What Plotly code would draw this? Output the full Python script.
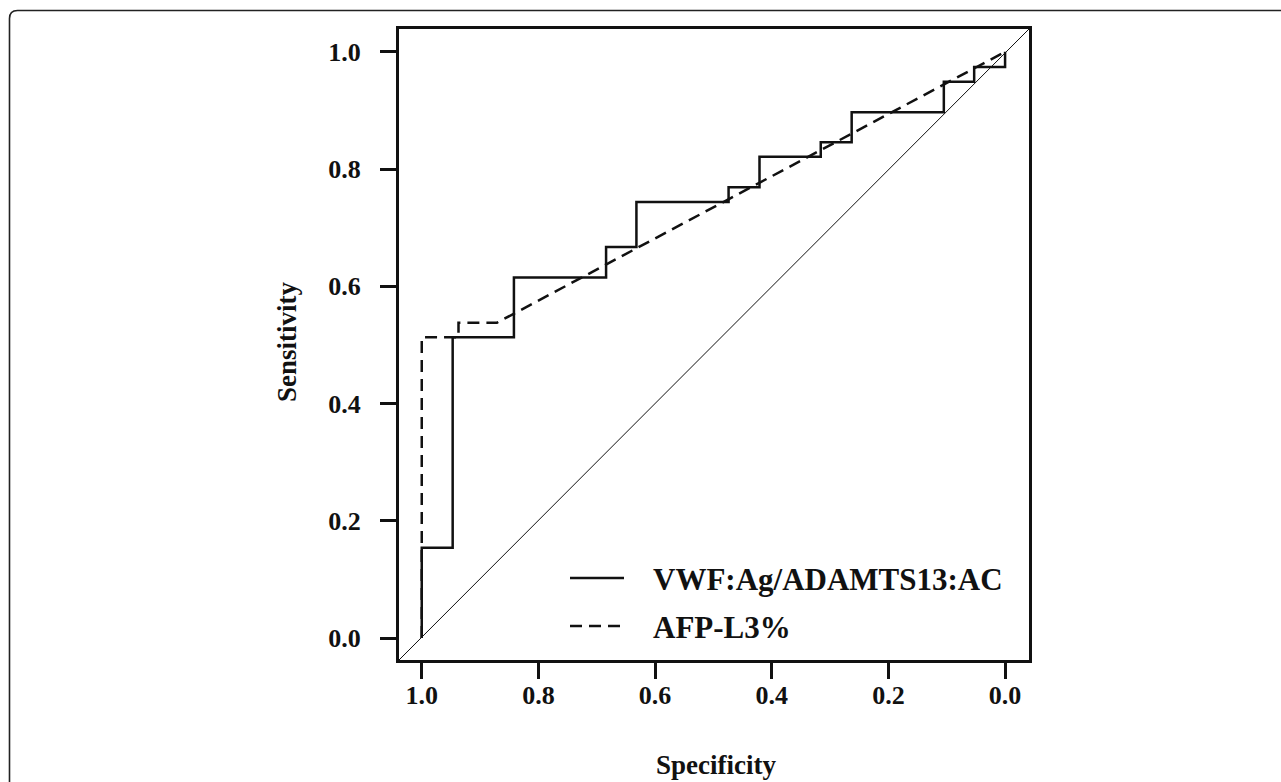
import plotly.graph_objects as go

# ROC data
vwf_spec = [1.0, 1.0, 0.947, 0.947, 0.842, 0.842, 0.684, 0.684, 0.632, 0.632,
            0.474, 0.474, 0.421, 0.421, 0.316, 0.316, 0.263, 0.263, 0.105, 0.105,
            0.053, 0.053, 0.0, 0.0]
vwf_sens = [0.0, 0.154, 0.154, 0.513, 0.513, 0.615, 0.615, 0.667, 0.667, 0.744,
            0.744, 0.769, 0.769, 0.821, 0.821, 0.846, 0.846, 0.897, 0.897, 0.949,
            0.949, 0.974, 0.974, 1.0]
afp_spec = [1.0, 1.0, 0.937, 0.937, 0.871, 0.0]
afp_sens = [0.0, 0.513, 0.513, 0.538, 0.538, 1.0]

series_names = ["VWF:Ag/ADAMTS13:AC", "AFP-L3%"]
tick_vals = [0.0, 0.2, 0.4, 0.6, 0.8, 1.0]
tick_text = ["0.0", "0.2", "0.4", "0.6", "0.8", "1.0"]

FONT = "Liberation Serif"
INK = "#111111"
LW = 2.5
DASH = "12px,7px"

fig = go.Figure()
fig.add_trace(go.Scatter(x=vwf_spec, y=vwf_sens, mode="lines", name=series_names[0],
                         line=dict(color=INK, width=LW), showlegend=False))
fig.add_trace(go.Scatter(x=afp_spec, y=afp_sens, mode="lines", name=series_names[1],
                         line=dict(color=INK, width=LW, dash=DASH), showlegend=False))

# chance diagonal (corner to corner of plot box)
fig.add_shape(type="line", xref="paper", yref="paper", x0=0, y0=0, x1=1, y1=1,
              line=dict(color=INK, width=1))

# plot box in window pixels
L, T, W, H = 399, 29, 630, 631
def px(x): return (x - L) / W
def py(y): return (T + H - y) / H

# manual legend
fig.add_shape(type="line", xref="paper", yref="paper", x0=px(570), x1=px(624),
              y0=py(578), y1=py(578), line=dict(color=INK, width=LW))
fig.add_shape(type="line", xref="paper", yref="paper", x0=px(570), x1=px(622),
              y0=py(626), y1=py(626), line=dict(color=INK, width=LW, dash=DASH))
for name, yy in zip(series_names, [579, 627]):
    fig.add_annotation(text=name, xref="paper", yref="paper", x=px(651), y=py(yy),
                       xanchor="left", yanchor="middle", showarrow=False,
                       font=dict(family=FONT, size=31, color=INK, weight="bold"))

# axis titles
fig.add_annotation(text="Specificity", xref="paper", yref="paper", x=px(716), y=py(765),
                   xanchor="center", yanchor="middle", showarrow=False,
                   font=dict(family=FONT, size=27, color=INK, weight="bold"))
fig.add_annotation(text="Sensitivity", xref="paper", yref="paper", x=px(287), y=py(342),
                   xanchor="center", yanchor="middle", showarrow=False, textangle=-90,
                   font=dict(family=FONT, size=27, color=INK, weight="bold"))

# outer rounded frame
x0, y0, r = px(9.5), py(10.5), 8
fig.add_shape(type="path", xref="paper", yref="paper",
              path=(f"M {x0},{py(800)} L {x0},{py(10.5 + r)} "
                    f"Q {x0},{y0} {px(9.5 + r)},{y0} L {px(1300)},{y0}"),
              line=dict(color="#222222", width=1.6))

axis_common = dict(showgrid=False, zeroline=False, showline=True, mirror=True,
                   linecolor=INK, linewidth=3, ticks="outside", ticklen=16,
                   tickwidth=3, tickcolor=INK, tickvals=tick_vals, ticktext=tick_text,
                   tickfont=dict(family=FONT, size=26, color=INK, weight="bold"))
fig.update_xaxes(range=[1.039, -0.041], ticklabelstandoff=-6, **axis_common)
fig.update_yaxes(range=[-0.0375, 1.039], ticklabelstandoff=14, **axis_common)

FW, FH = 1281, 782
fig.update_layout(width=FW, height=FH, paper_bgcolor="white", plot_bgcolor="white",
                  margin=dict(l=L, r=FW - L - W, t=T, b=FH - T - H, autoexpand=False),
                  showlegend=False)

fig.write_html("out.html", config={"displayModeBar": False},
               post_script="document.body.style.margin='0';"
                           "document.body.style.overflow='hidden';")
